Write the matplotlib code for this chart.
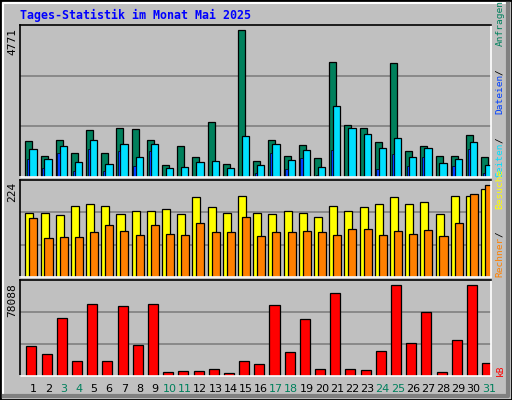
import numpy as np
import matplotlib.pyplot as plt
from matplotlib.lines import Line2D

days = np.arange(1, 32)
weekend = [3, 4, 10, 11, 17, 18, 24, 25, 31]

anfragen = [1177, 691, 1210, 788, 1534, 788, 1598, 1566, 1210, 400, 1015, 659, 1793, 432, 4771,
            529, 1210, 691, 1048, 626, 3737, 1696, 1598, 1145, 3704, 853, 1015, 691, 691, 1372, 659]
seiten = [918, 594, 1015, 497, 1210, 432, 1080, 659, 1080, 302, 335, 497, 529, 302, 1339,
          400, 1080, 562, 886, 335, 2311, 1598, 1404, 950, 1274, 659, 950, 464, 594, 1145, 400]
dateien = [594, 302, 788, 205, 918, 205, 853, 367, 853, 43, 43, 43, 43, 43, 43,
           140, 788, 270, 626, 76, 886, 43, 43, 270, 756, 367, 659, 43, 367, 918, 140]
besuche = [156, 156, 151, 173, 176, 173, 154, 159, 161, 166, 154, 193, 171, 156, 197,
           156, 154, 159, 156, 146, 173, 159, 171, 176, 195, 178, 183, 154, 197, 197, 214]
rechner = [142, 95, 98, 98, 110, 127, 112, 103, 127, 105, 103, 132, 108, 108, 146,
           100, 108, 108, 112, 108, 103, 117, 117, 103, 112, 105, 115, 100, 132, 202, 224]
kb = [25935, 19095, 49875, 13110, 61845, 13110, 60135, 26790, 61845, 3705, 4560, 4560, 6270, 2850, 13110,
      10545, 60990, 20805, 49020, 6270, 71250, 6270, 5415, 21660, 78088, 28500, 55005, 3705, 31065, 78088, 11400]

BG = "#c0c0c0"
W, H = 512, 400
fig = plt.figure(figsize=(W / 100, H / 100), dpi=100, facecolor=BG)


def px_axes(x0, y0, x1, y1):
    ax = fig.add_axes([x0 / W, 1 - y1 / H, (x1 - x0) / W, (y1 - y0) / H])
    ax.set_facecolor(BG)
    ax.set_xlim(0, 31)
    ax.set_xticks([])
    ax.set_yticks([])
    for s in ["left", "top"]:
        ax.spines[s].set_color("black")
    for s in ["right", "bottom"]:
        ax.spines[s].set_color("white")
    for s in ax.spines.values():
        s.set_linewidth(1.2)
    return ax


def grid(ax, top):
    for f in (1 / 3, 2 / 3):
        ax.axhline(top * f, color="#808080", lw=1.2, zorder=0)


x0 = days - 1
kw = dict(align="edge", edgecolor="black", linewidth=0.9)

ax1 = px_axes(20, 25, 491, 177)
top1 = 4771 * 152 / 147.4
ax1.set_ylim(0, top1)
grid(ax1, top1)
ax1.bar(x0 + 0.35, anfragen, 0.46, color="#00805c", **kw)
ax1.bar(x0 + 0.61, seiten, 0.48, color="#00e0ff", **kw)
ax1.bar(x0 + 0.46, dateien, 0.15, color="#0040ff", edgecolor="black", linewidth=0.5, align="edge")

ax2 = px_axes(20, 180, 491, 277)
top2 = 224 * 97 / 92.3
ax2.set_ylim(0, top2)
grid(ax2, top2)
ax2.bar(x0 + 0.35, besuche, 0.53, color="#ffff00", **kw)
ax2.bar(x0 + 0.61, rechner, 0.53, color="#ff8000", **kw)

ax3 = px_axes(20, 280, 491, 376)
top3 = 78088 * 96 / 91.3
ax3.set_ylim(0, top3)
grid(ax3, top3)
ax3.bar(x0 + 0.42, kb, 0.66, color="#ff0000", **kw)

for d in days:
    fig.text((20 + (d - 1 + 0.86) * 471 / 31) / W, 1 - 389 / H, str(d), ha="center", va="center",
             fontsize=8, color="#00805c" if d in weekend else "black")

fig.text(20 / W, 1 - 15 / H, "Tages-Statistik im Monat Mai 2025", fontsize=8.4, weight="bold",
         family="DejaVu Sans Mono", color="#0000ff", va="center")

for label, ytop in [("4771", 28), ("224", 182), ("78088", 283)]:
    fig.text(17 / W, 1 - ytop / H, label, rotation=90, ha="right", va="top", fontsize=8,
             family="DejaVu Sans Mono")

VSIZE = 6.8


def vlabel(parts, ybottom):
    step = 0.602 * VSIZE * 100 / 72
    y = ybottom
    for txt, col in parts:
        fig.text(500 / W, 1 - y / H, txt.strip(), rotation=90, ha="center", va="bottom",
                 fontsize=VSIZE, family="DejaVu Sans Mono", color=col)
        y -= step * len(txt)


vlabel([("Seiten", "#00e0ff"), ("  /  ", "#000000"), ("Dateien", "#0040ff"),
        ("  /  ", "#000000"), ("Anfragen", "#00805c")], 177)
vlabel([("Rechner", "#ff8000"), ("  /  ", "#000000"), ("Besuche", "#ffff00")], 277)
vlabel([("kB", "#ff0000")], 376)

# outer bevel
fig.add_artist(Line2D([0, 1, 1, 0, 0], [0, 0, 1, 1, 0], transform=fig.transFigure, color="black", lw=2))
fig.add_artist(Line2D([3 / W, 3 / W, 1 - 3 / W], [3 / H, 1 - 3 / H, 1 - 3 / H], transform=fig.transFigure, color="white", lw=1.5))
fig.add_artist(Line2D([4 / W, 1 - 4 / W, 1 - 4 / W], [4 / H, 4 / H, 1 - 4 / H], transform=fig.transFigure, color="#808080", lw=3))

fig.savefig("out.png", dpi=100, facecolor=BG)
